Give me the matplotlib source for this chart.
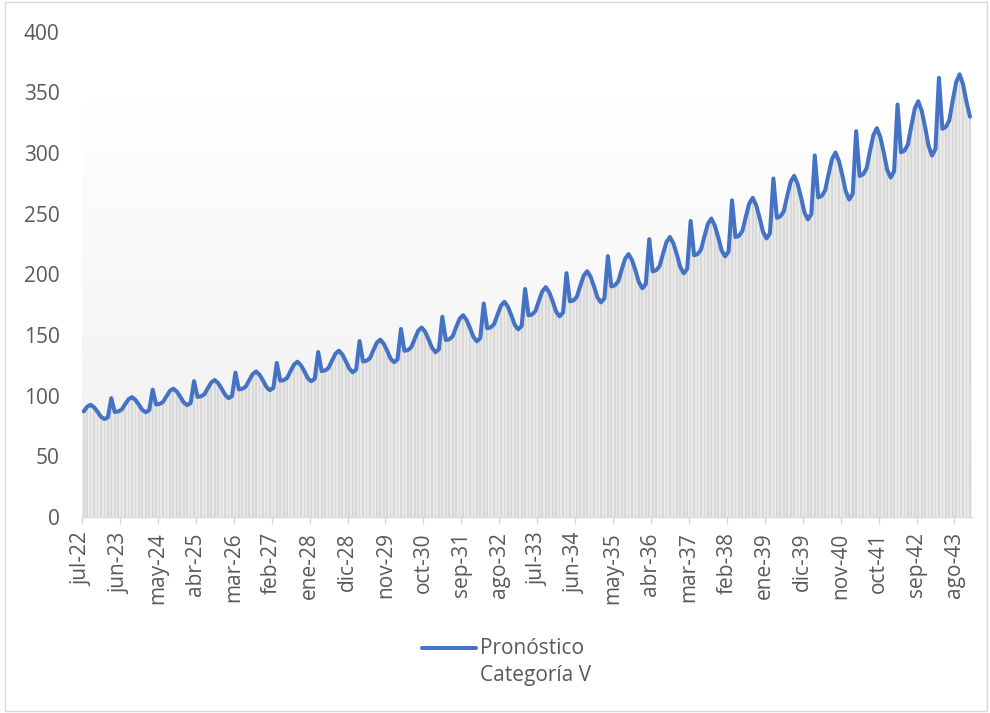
import numpy as np
import matplotlib
matplotlib.use('Agg')
import matplotlib.pyplot as plt
from matplotlib.lines import Line2D
from matplotlib.patches import Rectangle

plt.rcParams['font.family'] = ['Open Sans', 'DejaVu Sans']

# monthly forecast, jul-22 .. dic-43
pronostico = [
    87.0, 90.9, 92.5, 90.4, 86.8, 82.6,                                          # 2022 jul-dic
    80.7, 82.1, 98.0, 86.6, 87.0, 88.5, 92.9, 97.0, 98.8, 96.5, 92.6, 88.2,      # 2023
    86.4, 88.0, 105.0, 92.8, 93.2, 94.8, 99.5, 104.0, 105.8, 103.4, 99.2, 94.5,  # 2024
    92.2, 93.9, 112.0, 99.0, 99.5, 101.1, 106.2, 110.9, 112.9, 110.3, 105.8, 100.8,
    97.9, 99.7, 119.0, 105.2, 105.7, 107.5, 112.8, 117.8, 120.0, 117.2, 112.5, 107.1,
    104.5, 106.4, 127.0, 112.3, 112.8, 114.7, 120.4, 125.7, 128.0, 125.1, 120.0, 114.3,
    111.9, 114.0, 136.0, 120.2, 120.8, 122.8, 128.9, 134.6, 137.1, 134.0, 128.5, 122.4,
    119.3, 121.5, 145.0, 128.2, 128.8, 130.9, 137.5, 143.6, 146.2, 142.8, 137.0, 130.5,
    127.6, 129.9, 155.0, 137.0, 137.6, 140.0, 146.9, 153.5, 156.2, 152.7, 146.5, 139.5,
    135.8, 138.3, 165.0, 145.9, 146.5, 149.0, 156.4, 163.4, 166.3, 162.5, 155.9, 148.5,
    144.8, 147.5, 176.0, 155.6, 156.3, 158.9, 166.8, 174.2, 177.4, 173.4, 166.3, 158.4,
    154.7, 157.5, 188.0, 166.2, 166.9, 169.8, 178.2, 186.1, 189.5, 185.2, 177.7, 169.2,
    165.4, 168.4, 201.0, 177.7, 178.5, 181.5, 190.5, 199.0, 202.6, 198.0, 189.9, 180.9,
    176.9, 180.2, 215.0, 190.1, 190.9, 194.1, 203.8, 212.9, 216.7, 211.8, 203.2, 193.5,
    188.5, 191.9, 229.0, 202.4, 203.4, 206.8, 217.1, 226.7, 230.8, 225.6, 216.4, 206.1,
    200.8, 204.5, 244.0, 215.7, 216.7, 220.3, 231.3, 241.6, 246.0, 240.3, 230.6, 219.6,
    214.8, 218.7, 261.0, 230.7, 231.8, 235.7, 247.4, 258.4, 263.1, 257.1, 246.6, 234.9,
    229.6, 233.8, 279.0, 246.6, 247.8, 251.9, 264.5, 276.2, 281.2, 274.8, 263.7, 251.1,
    245.3, 249.7, 298.0, 263.4, 264.6, 269.1, 282.5, 295.0, 300.4, 293.5, 281.6, 268.2,
    261.7, 266.5, 318.0, 281.1, 282.4, 287.2, 301.5, 314.8, 320.5, 313.2, 300.5, 286.2,
    279.8, 284.9, 340.0, 300.6, 301.9, 307.0, 322.3, 336.6, 342.7, 334.9, 321.3, 306.0,
    297.9, 303.4, 362.0, 320.0, 321.5, 326.9, 343.2, 358.4, 364.9, 356.6, 342.1, 330.0,
]

etiquetas = ['jul-22', 'jun-23', 'may-24', 'abr-25', 'mar-26', 'feb-27', 'ene-28', 'dic-28',
             'nov-29', 'oct-30', 'sep-31', 'ago-32', 'jul-33', 'jun-34', 'may-35', 'abr-36',
             'mar-37', 'feb-38', 'ene-39', 'dic-39', 'nov-40', 'oct-41', 'sep-42', 'ago-43']
paso = 11

n = len(pronostico)
x = np.arange(n) + 0.5
gris_txt = '#595959'
fs = 15

fig = plt.figure(figsize=(9.9, 7.13), dpi=100)
ax = fig.add_axes([0.0828, 0.2749, 0.8987, 0.6806])

# degradado de fondo del area de trazado
g = np.linspace(0, 1, 256)[:, None]
top = np.array([1.0, 1.0, 1.0])
bot = np.array([0.937, 0.937, 0.937])
frac = np.clip(g / 0.86, 0, 1)
img = (bot + (top - bot) * frac)[:, None, :].reshape(256, 1, 3)
ax.imshow(img, extent=[0, n, 0, 400], origin='lower', aspect='auto', zorder=0)

ax.fill_between(x, pronostico, 0, color='#e9e9e9', lw=0, zorder=1)
ax.bar(x, pronostico, width=0.5, color='#d8d8d8', lw=0, zorder=2)
ax.plot(x, pronostico, color='#4472c4', lw=2.9, solid_joinstyle='round',
        solid_capstyle='round', zorder=3)

ax.set_xlim(0, n)
ax.set_ylim(0, 400)
ax.set_yticks(np.arange(0, 401, 50))
ax.set_xticks(np.arange(len(etiquetas)) * paso)
ax.set_xticklabels(etiquetas, rotation=90)

for s in ['top', 'right', 'left']:
    ax.spines[s].set_visible(False)
ax.spines['bottom'].set_color('#d9d9d9')
ax.spines['bottom'].set_linewidth(1.0)

ax.tick_params(axis='y', length=0, pad=16, labelsize=fs, labelcolor=gris_txt)
ax.tick_params(axis='x', length=5, width=1, color='#d9d9d9', pad=6,
               labelsize=fs, labelcolor=gris_txt)

# leyenda
fig.add_artist(Line2D([422/990, 476/990], [1-648/713, 1-648/713], color='#4472c4',
                      lw=2.9, solid_capstyle='round'))
fig.text(480/990, 1-648/713, 'Pronóstico', fontsize=fs, color=gris_txt, va='center')
fig.text(480/990, 1-676/713, 'Categoría V', fontsize=fs, color=gris_txt, va='center')

# borde del grafico
fig.add_artist(Rectangle((5/990, 2/713), 982/990, 709/713, transform=fig.transFigure,
                         fill=False, edgecolor='#d9d9d9', lw=1))

fig.savefig('out.png', dpi=100)
